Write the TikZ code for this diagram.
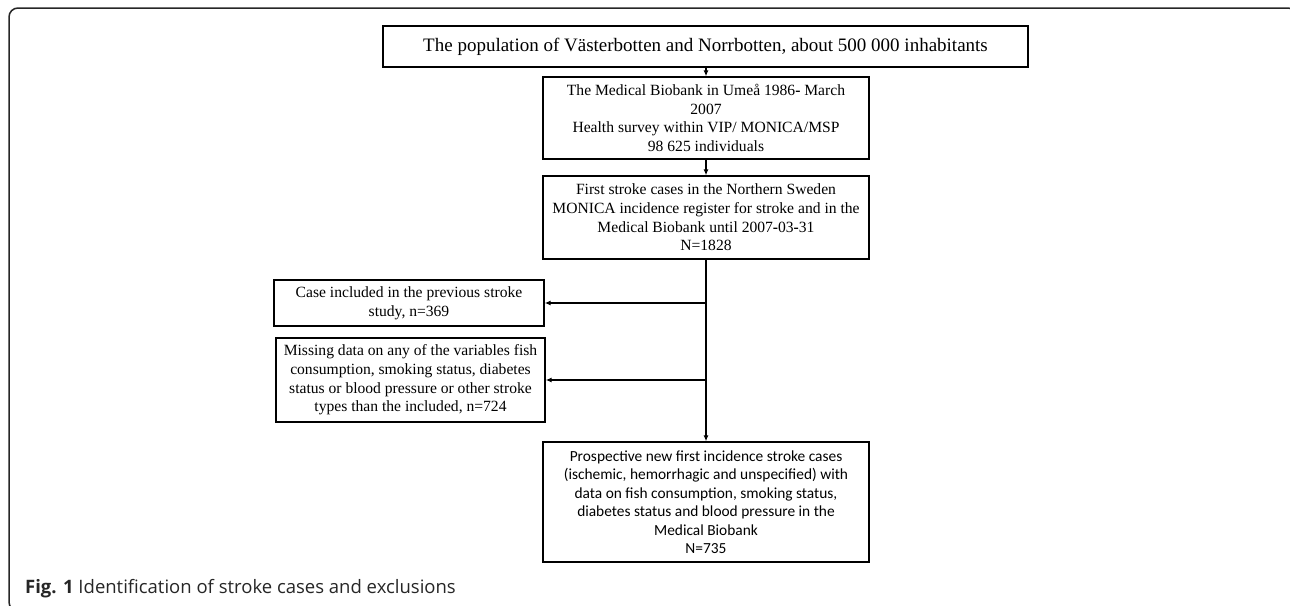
\documentclass[tikz,border=0pt]{standalone}
\usepackage{fontspec}
\setmainfont{Liberation Serif}
\newfontfamily\calfont{Carlito}
\newfontfamily\capfont{Open Sans}
\usetikzlibrary{arrows.meta}
\begin{document}
\begin{tikzpicture}[x=1pt,y=-1pt,
  box/.style={draw=black, line width=1.3pt, align=center, inner sep=0pt,
    font=\fontsize{15.6}{18.7}\selectfont},
  arr/.style={-{Latex[length=6pt,width=5pt]}, line width=1.3pt}]
\useasboundingbox (0,0) rectangle (1290,605);
\begin{scope}
  \clip (0,0) rectangle (1290,605);
  \draw[black!85, line width=1.5pt, rounded corners=9pt] (9,8) rectangle (1297,611);
\end{scope}

\node[box, minimum width=645pt, minimum height=41pt, font=\fontsize{19}{22}\selectfont]
  (pop) at (705.5,46.5) {The population of Västerbotten and Norrbotten, about 500 000 inhabitants};

\node[box, minimum width=326pt, minimum height=82pt] (med) at (706,118)
  {The Medical Biobank in Umeå 1986{\bfseries-} March\\2007\\Health survey within VIP/ MONICA/MSP\\98 625 individuals};

\node[box, minimum width=326pt, minimum height=83pt] (first) at (706,217.5)
  {First stroke cases in the Northern Sweden\\MONICA incidence register for stroke and in the\\Medical Biobank until 2007{\bfseries-}03{\bfseries-}31\\N=1828};

\node[box, minimum width=270pt, minimum height=46pt] (case) at (409,303)
  {Case included in the previous stroke\\study, n=369};

\node[box, minimum width=269pt, minimum height=84pt] (miss) at (410.5,380)
  {Missing data on any of the variables fish\\consumption, smoking status, diabetes\\status or blood pressure or other stroke\\types than the included, n=724};

\node[box, minimum width=326pt, minimum height=120pt, font=\calfont\fontsize{15.4}{18.5}\selectfont]
  (prosp) at (706,502)
  {Prospective new first incidence stroke cases\\(ischemic, hemorrhagic and unspecified) with\\data on fish consumption, smoking status,\\diabetes status and blood pressure in the\\Medical Biobank\\N=735};

\draw[arr] (pop.south -| med.north) -- (med.north);
\draw[arr] (med.south) -- (first.north);
\draw[arr] (first.south) -- (prosp.north);
\coordinate (j1) at (first.south |- case.east);
\coordinate (j2) at (first.south |- miss.east);
\draw[arr] (j1) -- (case.east);
\draw[arr] (j2) -- (miss.east);

\node[anchor=base west, inner sep=0pt, text=black!85, font=\capfont\fontsize{18.5}{22}\selectfont]
  (cap) at (25,593) {\textbf{Fig. 1} Identification of stroke cases and exclusions};
\end{tikzpicture}
\end{document}
